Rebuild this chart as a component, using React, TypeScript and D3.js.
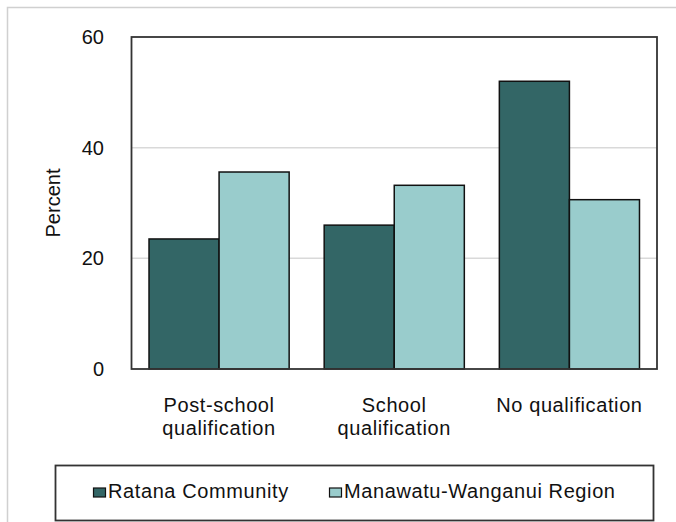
import React, { useEffect, useRef } from 'react';
import * as d3 from 'd3';

const categories = ['Post-school qualification', 'School qualification', 'No qualification'];
const categoryLines = [['Post-school', 'qualification'], ['School', 'qualification'], ['No qualification']];
const seriesNames = ['Ratana Community', 'Manawatu-Wanganui Region'];
const ratanaValues = [23.5, 26.0, 52.0];
const regionValues = [35.6, 33.2, 30.6];
const yTicks = [0, 20, 40, 60];
const seriesColors = ['#336666', '#99cccc'];

const App: React.FC = () => {
  const ref = useRef<SVGSVGElement>(null);

  useEffect(() => {
    const svg = d3.select(ref.current);
    svg.selectAll('*').remove();

    const font = '"Liberation Sans", Arial, sans-serif';
    const plot = { left: 131.5, right: 657, top: 37, bottom: 369 };

    // outer frame
    svg.append('rect')
      .attr('x', 7.5).attr('y', 7.5)
      .attr('width', 700).attr('height', 600)
      .attr('fill', 'white')
      .attr('stroke', '#d0d0d0').attr('stroke-width', 1.5);

    const y = d3.scaleLinear().domain([0, 60]).range([plot.bottom, plot.top]);
    const x0 = d3.scaleBand<string>()
      .domain(categories)
      .range([plot.left, plot.right])
      .paddingInner(0.2)
      .paddingOuter(0.1);
    const x1 = d3.scaleBand<string>()
      .domain(seriesNames)
      .range([0, x0.bandwidth()]);

    // gridlines
    svg.append('g')
      .selectAll('line')
      .data(yTicks.filter(t => t > 0 && t < 60))
      .enter()
      .append('line')
      .attr('x1', plot.left).attr('x2', plot.right)
      .attr('y1', d => y(d)).attr('y2', d => y(d))
      .attr('stroke', '#d9d9d9').attr('stroke-width', 1.5);

    // bars
    const rows = categories.map((c, i) => ({ c, vals: [ratanaValues[i], regionValues[i]] }));
    const groups = svg.append('g')
      .selectAll('g')
      .data(rows)
      .enter()
      .append('g')
      .attr('transform', d => `translate(${x0(d.c)},0)`);

    groups.selectAll('rect')
      .data(d => d.vals.map((v, j) => ({ name: seriesNames[j], v, j })))
      .enter()
      .append('rect')
      .attr('x', d => x1(d.name) as number)
      .attr('y', d => y(d.v))
      .attr('width', x1.bandwidth())
      .attr('height', d => y(0) - y(d.v))
      .attr('fill', d => seriesColors[d.j])
      .attr('stroke', '#111')
      .attr('stroke-width', 1.5);

    // plot border
    svg.append('rect')
      .attr('x', plot.left).attr('y', plot.top)
      .attr('width', plot.right - plot.left)
      .attr('height', plot.bottom - plot.top)
      .attr('fill', 'none')
      .attr('stroke', '#333').attr('stroke-width', 1.8);

    // y tick labels
    svg.append('g')
      .selectAll('text')
      .data(yTicks)
      .enter()
      .append('text')
      .attr('x', 104)
      .attr('y', d => y(d) + 7)
      .attr('text-anchor', 'end')
      .attr('font-family', font)
      .attr('font-size', 20)
      .attr('fill', '#111')
      .text(d => d);

    svg.append('text')
      .attr('transform', `translate(60,${(plot.top + plot.bottom) / 2}) rotate(-90)`)
      .attr('text-anchor', 'middle')
      .attr('font-family', font)
      .attr('font-size', 20)
      .attr('fill', '#111')
      .text('Percent');

    // category labels
    const catText = svg.append('g')
      .selectAll('text')
      .data(categories)
      .enter()
      .append('text')
      .attr('x', d => (x0(d) as number) + x0.bandwidth() / 2)
      .attr('y', 412)
      .attr('text-anchor', 'middle')
      .attr('font-family', font)
      .attr('font-size', 20)
      .attr('letter-spacing', 0.6)
      .attr('fill', '#111');
    catText.selectAll('tspan')
      .data((d, i) => categoryLines[i])
      .enter()
      .append('tspan')
      .attr('x', function () {
        return (this.parentNode as SVGTextElement).getAttribute('x');
      })
      .attr('dy', (d, i) => (i === 0 ? 0 : 23))
      .text(d => d);

    // legend
    svg.append('rect')
      .attr('x', 55.5).attr('y', 465.5)
      .attr('width', 598).attr('height', 55)
      .attr('fill', 'white')
      .attr('stroke', '#333').attr('stroke-width', 1.8);

    const legendX = [93, 329];
    const items = svg.append('g')
      .selectAll('g')
      .data(seriesNames)
      .enter()
      .append('g')
      .attr('transform', (d, i) => `translate(${legendX[i]},0)`);
    items.append('rect')
      .attr('x', 0.5).attr('y', 488)
      .attr('width', 12).attr('height', 9)
      .attr('fill', (d, i) => seriesColors[i])
      .attr('stroke', '#111').attr('stroke-width', 1.2);
    items.append('text')
      .attr('x', 15)
      .attr('y', 498)
      .attr('font-family', font)
      .attr('font-size', 20)
      .attr('letter-spacing', 0.6)
      .attr('fill', '#111')
      .text(d => d);
  }, []);

  return (
    <svg
      ref={ref}
      width={676}
      height={522}
      style={{ position: 'absolute', left: 0, top: 0, background: 'white' }}
    />
  );
};

export default App;
